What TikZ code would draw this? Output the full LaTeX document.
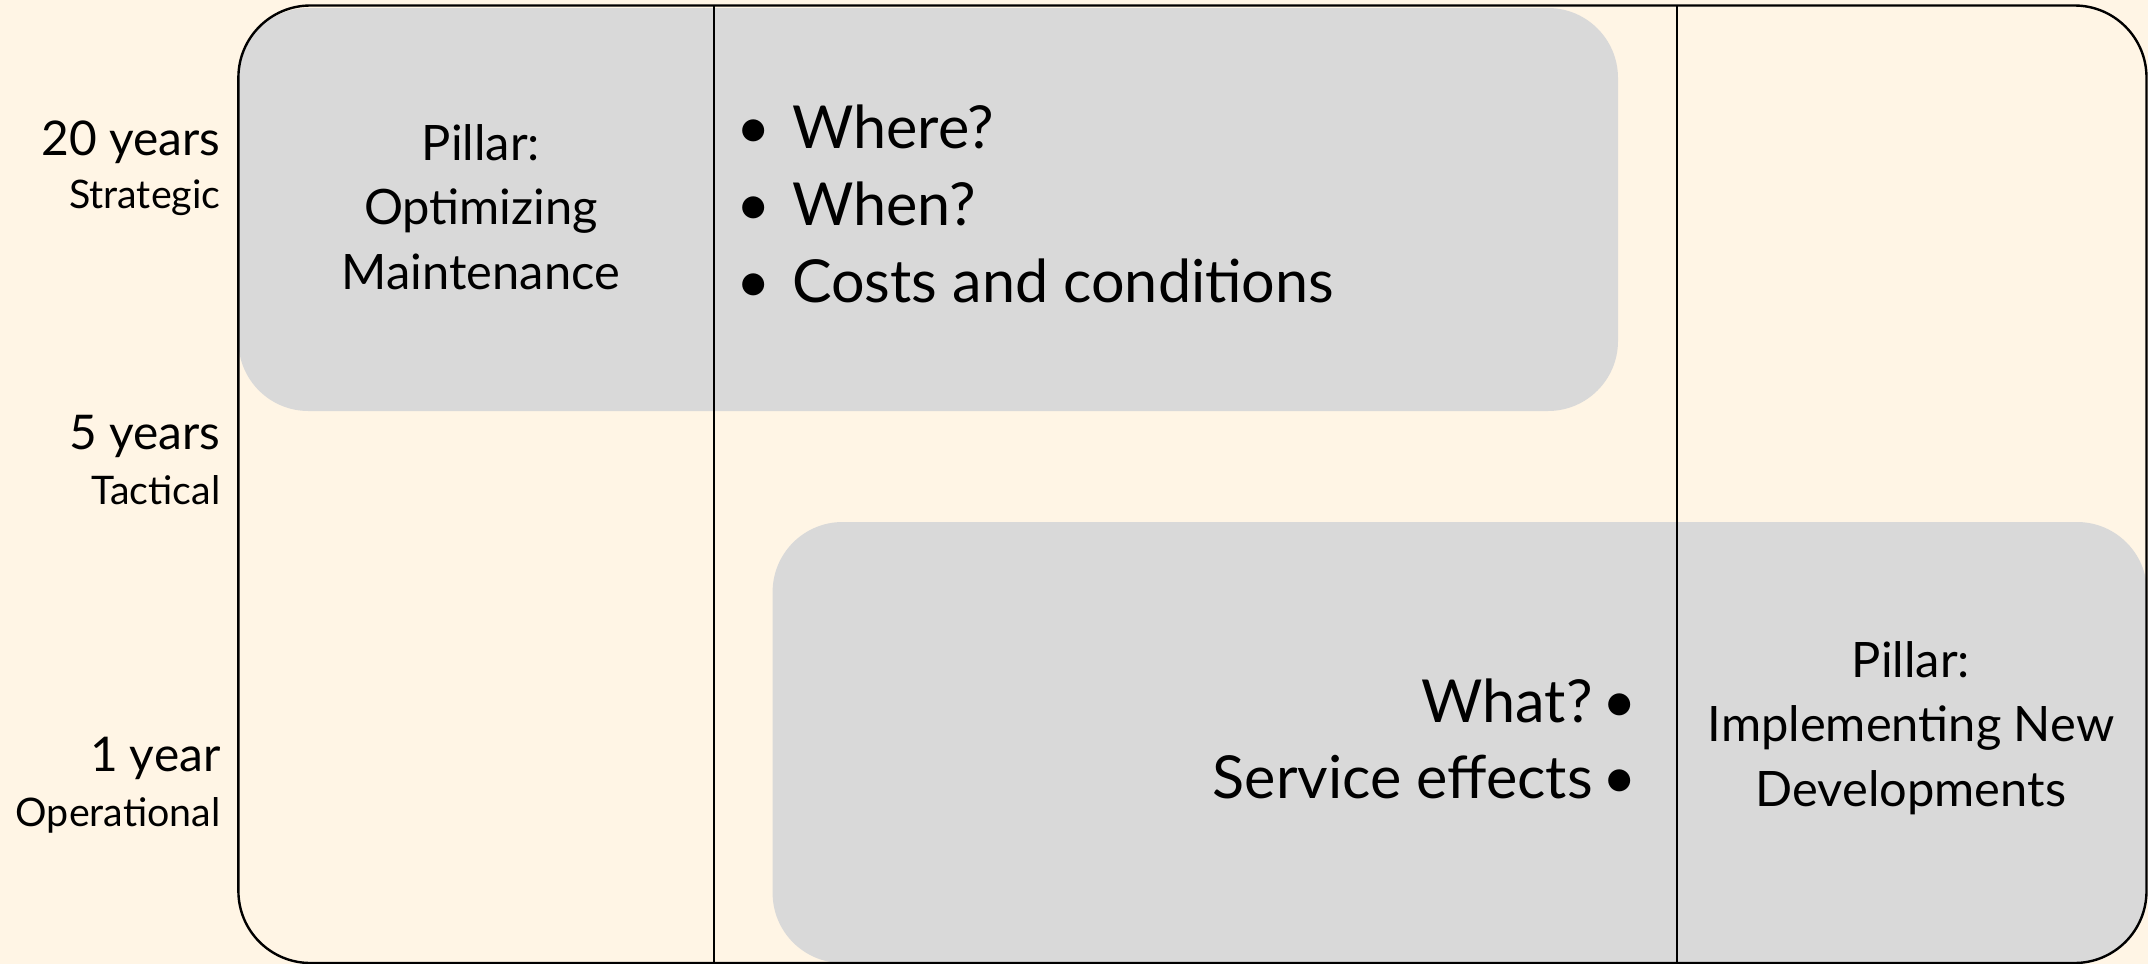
\documentclass[tikz,border=0pt]{standalone}
\usepackage{fontspec}
\setmainfont{Lato}
\definecolor{bgcream}{RGB}{255,245,229}
\definecolor{boxgray}{RGB}{217,217,217}
\begin{document}
\begin{tikzpicture}[x=1bp,y=-1bp,
  graybox/.style={fill=boxgray, rounded corners=70bp},
  frameline/.style={draw=black, line width=2.4bp, rounded corners=72bp},
  divline/.style={draw=black, line width=2bp},
  yearlbl/.style={anchor=base east, inner sep=0pt, font=\fontsize{48}{58}\selectfont},
  sublbl/.style={anchor=base east, inner sep=0pt, font=\fontsize{39.5}{46}\selectfont},
  pillar/.style={align=center, inner sep=0pt, font=\fontsize{49}{64.5}\selectfont},
  bullets/.style={inner sep=0pt, font=\fontsize{59.5}{77}\selectfont}]
\useasboundingbox (0,0) rectangle (2148,964);
\fill[bgcream] (0,0) rectangle (2148,964);
% grey regions
\fill[graybox] (238.4,8) rectangle (1618,411);
\fill[graybox] (772.6,522) rectangle (2147,963);
% divider lines
\coordinate (d1t) at (713.7,5.5);
\coordinate (d1b) at (713.7,964);
\coordinate (d2t) at (1676.8,5.5);
\coordinate (d2b) at (1676.8,964);
\draw[divline] (d1t) -- (d1b);
\draw[divline] (d2t) -- (d2b);
% frame
\draw[frameline] (238.4,5.5) rectangle (2146.5,963);
% left labels
\node[yearlbl] (y20) at (220.6,155) {20 years};
\node[sublbl] (s20) at (220.6,208) {Strategic};
\node[yearlbl] (y5) at (220.6,449) {5 years};
\node[sublbl] (s5) at (220.6,504) {Tactical};
\node[yearlbl] (y1) at (220.6,771) {1 year};
\node[sublbl] (s1) at (220.6,826) {Operational};
% pillars
\node[pillar] (p1) at (481,207) {Pillar:\\Optimizing\\Maintenance};
\node[pillar] (p2) at (1911,728) {Pillar:\\Implementing New\\Developments};
% bullet lists
\node[bullets, align=left, anchor=west] (bl1) at (736,204) {\makebox[56bp][l]{•}Where?\\\makebox[56bp][l]{•}When?\\\makebox[56bp][l]{•}Costs and conditions};
\node[bullets, align=right, anchor=east] (bl2) at (1637,739) {What?\,•\\Service effects\,•};
\end{tikzpicture}
\end{document}
